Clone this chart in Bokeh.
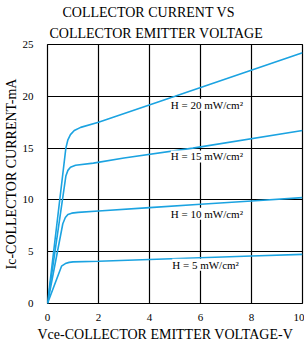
from bokeh.plotting import figure
from bokeh.models import Range1d, Label, FixedTicker, Title
from bokeh.embed import file_html
from bokeh.resources import INLINE

# Data
h5_x = [0, 0.55, 0.7, 0.85, 1.0, 2, 4, 6, 8, 10]
h5_y = [0, 3.6, 3.85, 3.97, 4.02, 4.08, 4.25, 4.42, 4.58, 4.74]

h10_x = [0, 0.6, 0.7, 0.8, 0.95, 1.2, 2, 4, 6, 8, 10]
h10_y = [0, 7.7, 8.3, 8.6, 8.72, 8.8, 8.93, 9.25, 9.58, 9.9, 10.22]

h15_x = [0, 0.72, 0.8, 0.9, 1.1, 1.8, 3, 5.7, 10]
h15_y = [0, 12.3, 12.85, 13.15, 13.35, 13.55, 14.05, 15.0, 16.7]

h20_x = [0, 0.72, 0.8, 0.9, 1.05, 1.3, 2, 5, 10]
h20_y = [0, 15.0, 15.8, 16.3, 16.7, 17.0, 17.5, 20.0, 24.2]

series = [(h5_x, h5_y), (h10_x, h10_y), (h15_x, h15_y), (h20_x, h20_y)]

curve_labels = ["H = 5 mW/cm²", "H = 10 mW/cm²", "H = 15 mW/cm²", "H = 20 mW/cm²"]
label_x = [6.2, 6.25, 6.25, 6.25]
label_y = [3.74, 8.67, 14.2, 19.18]

x_ticks = [0, 2, 4, 6, 8, 10]
y_ticks = [0, 5, 10, 15, 20, 25]

title_lines = ["COLLECTOR CURRENT VS", "COLLECTOR EMITTER VOLTAGE"]
x_label = "Vce-COLLECTOR EMITTER VOLTAGE-V"
y_label = "Ic-COLLECTOR CURRENT-mA"

FONT = "Liberation Serif"
BLUE = "#1ba3e1"

p = figure(width=304, height=343, output_backend="svg", toolbar_location=None,
           x_range=Range1d(0, 10), y_range=Range1d(0, 25), title=None)
p.min_border_left = 42
p.min_border_right = 2
p.min_border_top = 44
p.min_border_bottom = 40
p.background_fill_color = "white"
p.border_fill_color = "white"
p.outline_line_color = "black"
p.outline_line_width = 1.2

p.xaxis.ticker = FixedTicker(ticks=x_ticks)
p.yaxis.ticker = FixedTicker(ticks=y_ticks)
for ax in (p.xaxis, p.yaxis):
    ax.axis_line_color = None
    ax.major_tick_line_color = None
    ax.minor_tick_line_color = None
    ax.major_label_text_font = FONT
    ax.major_label_text_font_size = "11px"
    ax.major_label_text_color = "black"
    ax.axis_label_text_font = FONT
    ax.axis_label_text_font_size = "14px"
    ax.axis_label_text_font_style = "normal"
    ax.axis_label_text_color = "black"
p.xaxis.major_label_standoff = 4
p.yaxis.major_label_standoff = 8
p.yaxis.axis_label = y_label
p.yaxis.axis_label_standoff = 1

p.xgrid.ticker = FixedTicker(ticks=x_ticks)
p.ygrid.ticker = FixedTicker(ticks=y_ticks)
for g in (p.xgrid, p.ygrid):
    g.grid_line_color = "black"
    g.grid_line_width = 1.2
    g.grid_line_alpha = 1.0

for xs, ys in series:
    p.line(xs, ys, line_color=BLUE, line_width=1.6)

for txt, lx, ly in zip(curve_labels, label_x, label_y):
    p.add_layout(Label(x=lx, y=ly, text=txt, text_font=FONT, text_font_size="11px",
                       text_align="center", text_baseline="middle",
                       background_fill_color="white", text_color="black"))

t2 = Title(text=title_lines[1], align="left", offset=2, text_font=FONT,
           text_font_size="14px", text_font_style="normal", text_color="black", standoff=8)
t1 = Title(text=title_lines[0], align="left", offset=15, text_font=FONT,
           text_font_size="14px", text_font_style="normal", text_color="black", standoff=0)
p.add_layout(t2, "above")
p.add_layout(t1, "above")

tx = Title(text=x_label, align="left", offset=-10, text_font=FONT,
           text_font_size="14px", text_font_style="normal", text_color="black", standoff=2)
p.add_layout(tx, "below")

open("out.html", "w").write(file_html(p, INLINE))
